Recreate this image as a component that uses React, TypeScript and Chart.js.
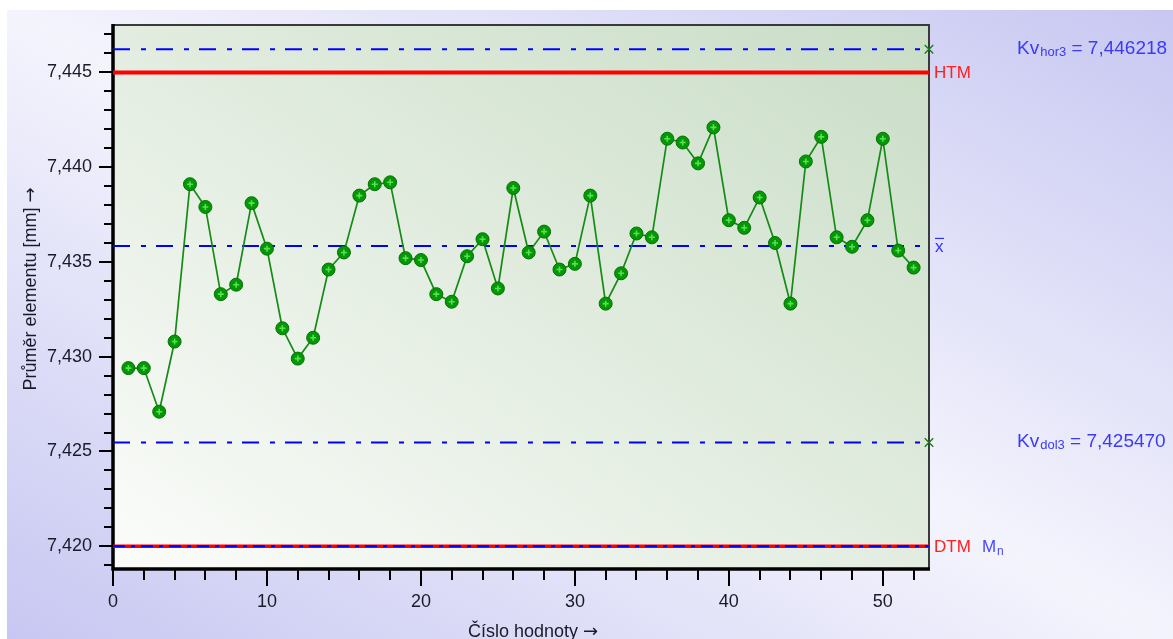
import React, { useEffect, useRef } from 'react';
import { Chart, registerables } from 'chart.js';

Chart.register(...registerables);

// ---- data ----
const sampleNumbers = [
  1, 2, 3, 4, 5, 6, 7, 8, 9, 10, 11, 12, 13, 14, 15, 16, 17, 18, 19, 20, 21, 22, 23, 24, 25, 26,
  27, 28, 29, 30, 31, 32, 33, 34, 35, 36, 37, 38, 39, 40, 41, 42, 43, 44, 45, 46, 47, 48, 49, 50, 51, 52,
];
const diameters = [
  7.4294, 7.4294, 7.4271, 7.4308, 7.4391, 7.4379, 7.4333, 7.4338, 7.4381, 7.4357,
  7.4315, 7.4299, 7.4310, 7.4346, 7.4355, 7.4385, 7.4391, 7.4392, 7.4352, 7.4351,
  7.4333, 7.4329, 7.4353, 7.4362, 7.4336, 7.4389, 7.4355, 7.4366, 7.4346, 7.4349,
  7.4385, 7.4328, 7.4344, 7.4365, 7.4363, 7.4415, 7.4413, 7.4402, 7.4421, 7.4372,
  7.4368, 7.4384, 7.4360, 7.4328, 7.4403, 7.4416, 7.4363, 7.4358, 7.4372, 7.4415,
  7.4356, 7.4347,
];
const kvHor3 = 7.446218;
const kvDol3 = 7.42547;
const xBar = 7.435844;
const htm = 7.445;
const dtm = 7.42;
const mn = 7.42;

const xMin = 0;
const xMax = 53;
const yMin = 7.4188;
const yMax = 7.4475;
const xMajorTicks = [0, 10, 20, 30, 40, 50];
const xMinorStep = 2;
const yMajorTicks = [7.42, 7.425, 7.43, 7.435, 7.44, 7.445];
const yMinorStep = 0.001;

const kvHorLabel = ['Kv', 'hor3', ' = 7,446218'];
const kvDolLabel = ['Kv', 'dol3', ' = 7,425470'];
const xTitle = 'Číslo hodnoty';
const yTitle = 'Průměr elementu [mm]';
const arrow = '→';

const FONT = '"Liberation Sans", Arial, sans-serif';
const ARROW_FONT = '"DejaVu Sans", sans-serif';

function diagGradient(ctx: CanvasRenderingContext2D, l: number, t: number, w: number, h: number, stops: [number, string][]) {
  const cx = l + w / 2;
  const cy = t + h / 2;
  const n2 = w * w + h * h;
  const k = (w * h) / n2;
  const g = ctx.createLinearGradient(cx - k * h, cy + k * w, cx + k * h, cy - k * w);
  stops.forEach(([p, c]) => g.addColorStop(p, c));
  return g;
}

const zeroPad = (s: any) => {
  s.paddingTop = 0;
  s.paddingBottom = 0;
  s.paddingLeft = 0;
  s.paddingRight = 0;
};

const decorPlugin = {
  id: 'decor',
  beforeDraw(chart: any) {
    const { ctx, width, height, chartArea: a } = chart;
    ctx.save();
    ctx.fillStyle = '#ffffff';
    ctx.fillRect(0, 0, width, height);
    const ol = 7, ot = 10;
    ctx.fillStyle = diagGradient(ctx, ol, ot, width - ol, height - ot, [
      [0, '#c7c7f2'],
      [0.5, '#f4f4fd'],
      [1, '#c7c7f2'],
    ]);
    ctx.fillRect(ol, ot, width - ol, height - ot);
    ctx.fillStyle = diagGradient(ctx, a.left, a.top, a.right - a.left, a.bottom - a.top, [
      [0, '#fbfcfa'],
      [1, '#c9ddc6'],
    ]);
    ctx.fillRect(a.left, a.top, a.right - a.left, a.bottom - a.top);
    ctx.restore();
  },
  beforeDatasetsDraw(chart: any) {
    const { ctx, chartArea: a, scales } = chart;
    const xs = scales.x;
    const ys = scales.y;
    ctx.save();
    ctx.strokeStyle = '#3a3a3a';
    ctx.lineWidth = 2;
    ctx.beginPath();
    ctx.moveTo(a.left, a.top);
    ctx.lineTo(a.right, a.top);
    ctx.lineTo(a.right, a.bottom);
    ctx.stroke();
    ctx.strokeStyle = '#000000';
    ctx.lineWidth = 3.5;
    ctx.beginPath();
    ctx.moveTo(a.left, a.top - 1);
    ctx.lineTo(a.left, a.bottom);
    ctx.lineTo(a.right + 1, a.bottom);
    ctx.stroke();
    ctx.lineWidth = 2;
    ctx.beginPath();
    for (let v = xMin; v <= xMax + 1e-9; v += xMinorStep) {
      const px = Math.round(xs.getPixelForValue(v));
      ctx.moveTo(px, a.bottom);
      ctx.lineTo(px, a.bottom + 11);
    }
    xMajorTicks.forEach((v) => {
      const px = Math.round(xs.getPixelForValue(v));
      ctx.moveTo(px, a.bottom);
      ctx.lineTo(px, a.bottom + 17);
    });
    const first = Math.ceil(yMin / yMinorStep - 1e-6);
    const last = Math.floor(yMax / yMinorStep + 1e-6);
    for (let i = first; i <= last; i++) {
      const py = Math.round(ys.getPixelForValue(i * yMinorStep));
      ctx.moveTo(a.left, py);
      ctx.lineTo(a.left - 9, py);
    }
    yMajorTicks.forEach((v) => {
      const py = Math.round(ys.getPixelForValue(v));
      ctx.moveTo(a.left, py);
      ctx.lineTo(a.left - 14, py);
    });
    ctx.stroke();
    ctx.restore();
  },
  afterDraw(chart: any) {
    const { ctx, chartArea: a, scales } = chart;
    const ys = scales.y;
    ctx.save();
    ctx.fillStyle = '#1a1a2a';
    ctx.textBaseline = 'alphabetic';
    ctx.textAlign = 'left';
    // x title
    ctx.font = `18px ${FONT}`;
    const xtW = ctx.measureText(xTitle + ' ').width;
    ctx.font = `18px ${ARROW_FONT}`;
    const arW = ctx.measureText(arrow).width;
    let sx = 533 - (xtW + arW) / 2;
    ctx.font = `18px ${FONT}`;
    ctx.fillText(xTitle + ' ', sx, 637);
    ctx.font = `18px ${ARROW_FONT}`;
    ctx.fillText(arrow, sx + xtW, 637);
    // y title
    ctx.save();
    ctx.translate(36, 289);
    ctx.rotate(-Math.PI / 2);
    ctx.font = `18px ${FONT}`;
    const ytW = ctx.measureText(yTitle + ' ').width;
    ctx.font = `18px ${ARROW_FONT}`;
    const ayW = ctx.measureText(arrow).width;
    sx = -(ytW + ayW) / 2;
    ctx.font = `18px ${FONT}`;
    ctx.fillText(yTitle + ' ', sx, 0);
    ctx.font = `18px ${ARROW_FONT}`;
    ctx.fillText(arrow, sx + ytW, 0);
    ctx.restore();

    // right labels
    const lx = a.right + 5;
    ctx.textAlign = 'left';
    ctx.textBaseline = 'middle';
    ctx.font = `17px ${FONT}`;
    ctx.fillStyle = '#ff2020';
    ctx.fillText('HTM', lx, ys.getPixelForValue(htm) + 1);
    ctx.fillText('DTM', lx, ys.getPixelForValue(dtm) + 1);
    ctx.fillStyle = '#3030ff';
    const xbY = ys.getPixelForValue(xBar) + 1;
    ctx.fillText('x', lx + 1, xbY);
    ctx.strokeStyle = '#3030ff';
    ctx.lineWidth = 1.2;
    ctx.beginPath();
    ctx.moveTo(lx + 1, xbY - 8.5);
    ctx.lineTo(lx + 10, xbY - 8.5);
    ctx.stroke();
    const mY = ys.getPixelForValue(mn) + 1;
    ctx.fillStyle = '#4848ff';
    ctx.fillText('M', 982, mY);
    ctx.font = `12px ${FONT}`;
    ctx.fillText('n', 997, mY + 4);

    const drawKv = (parts: string[], value: number) => {
      const y = ys.getPixelForValue(value) - 1;
      let x = 1017;
      ctx.fillStyle = '#3a3af8';
      ctx.font = `19px ${FONT}`;
      ctx.fillText(parts[0], x, y);
      x += ctx.measureText(parts[0]).width + 1;
      ctx.font = `13px ${FONT}`;
      ctx.fillText(parts[1], x, y + 4);
      x += ctx.measureText(parts[1]).width;
      ctx.font = `19px ${FONT}`;
      ctx.fillText(parts[2], x, y);
    };
    drawKv(kvHorLabel, kvHor3);
    drawKv(kvDolLabel, kvDol3);
    ctx.restore();
  },
};

const refLine = (value: number, color: string, width: number, dash: number[], order: number) => ({
  type: 'line',
  data: [
    { x: xMin, y: value },
    { x: xMax, y: value },
  ],
  borderColor: color,
  borderWidth: width,
  borderDash: dash,
  borderCapStyle: 'butt',
  pointRadius: 0,
  fill: false,
  order,
});

export default function App() {
  const ref = useRef<HTMLCanvasElement>(null);
  useEffect(() => {
    if (!ref.current) return;
    const points = sampleNumbers.map((n, i) => ({ x: n, y: diameters[i] }));
    const dashDot = [17, 11, 5, 10];
    const chart = new Chart(ref.current, {
      type: 'line',
      data: {
        datasets: [
          {
            data: points,
            showLine: false,
            pointStyle: 'cross',
            pointRadius: 3,
            pointBorderColor: '#55e055',
            pointBorderWidth: 1.6,
            order: 0,
          } as any,
          {
            data: points,
            borderColor: '#168a16',
            borderWidth: 1.7,
            pointRadius: 6.5,
            pointBackgroundColor: '#049804',
            pointBorderColor: '#067006',
            pointBorderWidth: 1,
            tension: 0,
            fill: false,
            order: 1,
          } as any,
          {
            data: [
              { x: xMax, y: kvHor3 },
              { x: xMax, y: kvDol3 },
            ],
            showLine: false,
            pointStyle: 'crossRot',
            pointRadius: 6,
            pointBorderColor: '#127a12',
            pointBorderWidth: 1.3,
            clip: false,
            order: -1,
          } as any,
          refLine(kvHor3, '#0000ff', 2, dashDot, 5) as any,
          refLine(xBar, '#0000ff', 2, dashDot, 5) as any,
          refLine(kvDol3, '#0000ff', 2, dashDot, 5) as any,
          refLine(htm, '#ff0000', 4, [], 6) as any,
          refLine(mn, '#0000ff', 2, [12, 6, 4, 6], 5) as any,
          refLine(dtm, '#ff0000', 3.5, [], 6) as any,
        ],
      },
      options: {
        responsive: false,
        animation: false,
        layout: { padding: { left: 0, top: 25, right: 244, bottom: 0 } },
        plugins: {
          legend: { display: false },
          tooltip: { enabled: false },
        },
        scales: {
          x: {
            type: 'linear',
            min: xMin,
            max: xMax,
            afterBuildTicks: (s: any) => {
              s.ticks = xMajorTicks.map((v) => ({ value: v }));
            },
            afterFit: (s: any) => {
              s.height = 70;
              zeroPad(s);
            },
            grid: { display: false, drawTicks: false },
            border: { display: false },
            ticks: {
              autoSkip: false,
              maxRotation: 0,
              padding: 22,
              color: '#1a1a2a',
              font: { family: FONT, size: 18 },
              callback: (v: any) => String(v),
            },
          },
          y: {
            type: 'linear',
            min: yMin,
            max: yMax,
            afterBuildTicks: (s: any) => {
              s.ticks = yMajorTicks.map((v) => ({ value: v }));
            },
            afterFit: (s: any) => {
              s.width = 113;
              zeroPad(s);
            },
            grid: { display: false, drawTicks: false },
            border: { display: false },
            ticks: {
              autoSkip: false,
              padding: 21,
              color: '#1a1a2a',
              font: { family: FONT, size: 18 },
              callback: (v: any) => Number(v).toFixed(3).replace('.', ','),
            },
          },
        },
      },
      plugins: [decorPlugin],
    } as any);
    return () => chart.destroy();
  }, []);
  return (
    <div style={{ position: 'absolute', left: 0, top: 0, width: 1173, height: 639 }}>
      <canvas ref={ref} width={1173} height={639} style={{ display: 'block' }} />
    </div>
  );
}
